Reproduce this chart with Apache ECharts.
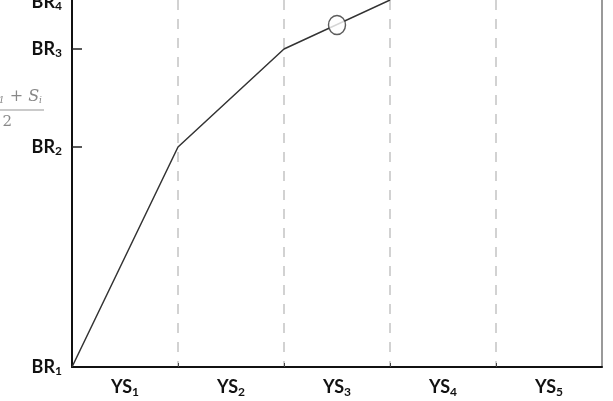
<!DOCTYPE html>
<html>
<head>
<meta charset="utf-8">
<script src="https://cdn.jsdelivr.net/npm/echarts@6/dist/echarts.min.js"></script>
<style>
html,body{margin:0;padding:0;background:#fff;}
#chart{width:613px;height:401px;}
</style>
</head>
<body>
<div id="chart"></div>
<script>
// stages along the x axis (one band each)
var stageNames = ['1', '2', '3', '4', '5'];
var stageCenters = [0.5, 1.5, 2.5, 3.5, 4.5];
var stageBounds = [1, 2, 3, 4];

// levels on the y axis
var levelNames = ['1', '2', '3', '4'];
var levelValues = [0, 220, 318, 365];
var levelTicks = [220, 318];
var midValue = 261;

// the curve, on stage boundaries
var curveX = [0, 1, 2, 3];
var curveY = [0, 220, 318, 367];

// hollow marker on the curve
var markerX = [2.5];
var markerY = [342];

var chart = echarts.init(document.getElementById('chart'));

var curve = curveX.map(function(x, i){ return [x, curveY[i]]; });
var marker = markerX.map(function(x, i){ return [x, markerY[i]]; });

var labelFont = 'Lato, "Open Sans", sans-serif';
var mathFont = '"DejaVu Serif", "Liberation Serif", serif';

chart.setOption({
	animation: false,
	grid: { left: 72, right: 11, top: 0, bottom: 34, containLabel: false, outerBoundsMode: 'none' },
	xAxis: {
		type: 'value',
		min: 0,
		max: 5,
		interval: 1,
		axisLine: { lineStyle: { color: '#111', width: 2 } },
		axisTick: {
			customValues: stageBounds,
			inside: true,
			length: 4,
			lineStyle: { color: '#444', width: 1 }
		},
		splitLine: {
			show: true,
			lineStyle: { color: '#c4c4c4', width: 1.5, type: [10, 9] }
		},
		axisLabel: {
			customValues: stageCenters,
			margin: 10,
			formatter: function(v){
				var i = stageCenters.indexOf(v);
				return i < 0 ? '' : '{b|YS}{s|' + stageNames[i] + '}';
			},
			rich: {
				b: { fontFamily: labelFont, fontWeight: 'bold', fontSize: 18, color: '#111' },
				s: { fontFamily: labelFont, fontWeight: 'bold', fontSize: 12, color: '#111', padding: [9, 0, 0, 0] }
			}
		}
	},
	yAxis: [{
		type: 'value',
		min: 0,
		max: 367,
		axisLine: { show: true, lineStyle: { color: '#111', width: 2 } },
		axisTick: {
			show: true,
			customValues: levelTicks,
			inside: true,
			length: 10,
			lineStyle: { color: '#222', width: 1.5 }
		},
		splitLine: { show: false },
		axisLabel: {
			customValues: levelValues.concat([midValue]),
			margin: 10,
			formatter: function(v){
				if (v === midValue) {
					return '{n|S}{ns|i\u22121}{n| + S}{ns|i}{sp1|}\n{hr|}{sp2|}\n{d|2}{sp3|}';
				}
				var i = levelValues.indexOf(v);
				return i < 0 ? '' : '{b|BR}{s|' + levelNames[i] + '}';
			},
			rich: {
				b: { fontFamily: labelFont, fontWeight: 'bold', fontSize: 18, color: '#111' },
				s: { fontFamily: labelFont, fontWeight: 'bold', fontSize: 12, color: '#111', padding: [9, 0, 0, 0] },
				n: { fontFamily: mathFont, fontStyle: 'italic', fontSize: 16, color: '#888', lineHeight: 26 },
				ns: { fontFamily: mathFont, fontStyle: 'italic', fontSize: 9, color: '#888', padding: [7, 0, 0, 0], lineHeight: 26 },
				sp1: { width: 20, height: 0 },
				hr: { width: 80, height: 0, borderColor: '#999', borderWidth: 0.6 },
				sp2: { width: 18, height: 0 },
				d: { fontFamily: mathFont, fontSize: 15, color: '#888', lineHeight: 18, padding: [6, 0, 0, 0] },
				sp3: { width: 50, height: 0 }
			}
		}
	}, {
		type: 'value',
		position: 'right',
		min: 0,
		max: 367,
		axisLine: { show: true, lineStyle: { color: '#777', width: 1.5 } },
		axisTick: { show: false },
		axisLabel: { show: false },
		splitLine: { show: false }
	}],
	series: [{
		type: 'line',
		data: curve,
		symbol: 'none',
		clip: true,
		lineStyle: { color: '#333', width: 1.5 },
		z: 3
	}, {
		type: 'scatter',
		data: marker,
		symbol: 'circle',
		symbolSize: [17, 19],
		itemStyle: { color: '#fff', borderColor: '#333', borderWidth: 1.5 },
		z: 4
	}]
});
</script>
</body>
</html>
